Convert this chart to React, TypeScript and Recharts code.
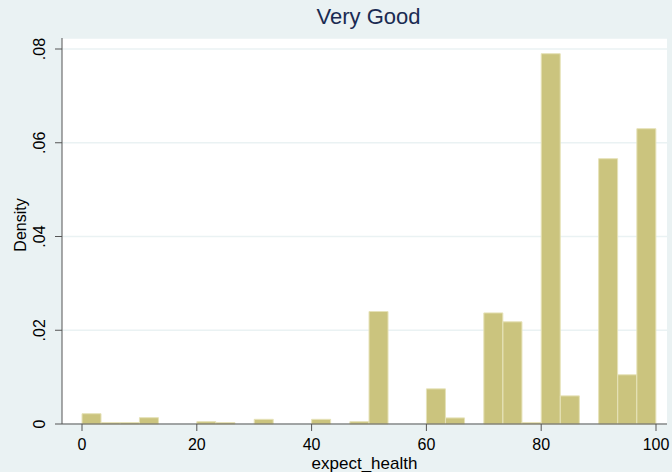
import { Bar, BarChart, CartesianGrid, Label, XAxis, YAxis } from "recharts";

// expect_health histogram, 30 bins of width 3.33 (0..100)
const binMids = [
  1.67, 5, 8.33, 11.67, 15, 18.33, 21.67, 25, 28.33, 31.67,
  35, 38.33, 41.67, 45, 48.33, 51.67, 55, 58.33, 61.67, 65,
  68.33, 71.67, 75, 78.33, 81.67, 85, 88.33, 91.67, 95, 98.33,
];
const densities = [
  0.0022, 0.0003, 0.0003, 0.00135, 0, 0, 0.0005, 0.0003, 0, 0.001,
  0, 0, 0.001, 0, 0.0005, 0.024, 0, 0, 0.0075, 0.0013,
  0, 0.0237, 0.0218, 0.0003, 0.079, 0.006, 0, 0.0566, 0.0105, 0.063,
];
const xTicks = [0, 20, 40, 60, 80, 100];
const yTicks = [0, 0.02, 0.04, 0.06, 0.08];

const data = binMids.map((mid, i) => ({ mid, density: densities[i] }));

const FONT = '"Liberation Sans", Arial, sans-serif';
const BG = "#eaf2f3";

const fmtY = (v: number) => (v === 0 ? "0" : v.toFixed(2).replace(/^0/, ""));

const YTick = (props: any) => {
  const { x, y, payload } = props;
  const tx = x - 8;
  return (
    <text
      x={tx}
      y={y}
      transform={`rotate(-90 ${tx} ${y})`}
      textAnchor="middle"
      fontSize={16}
      fontFamily={FONT}
      fill="#000"
    >
      {fmtY(payload.value)}
    </text>
  );
};

const XTick = (props: any) => {
  const { x, y, payload } = props;
  return (
    <text x={x} y={y + 17} textAnchor="middle" fontSize={16} fontFamily={FONT} fill="#000">
      {payload.value}
    </text>
  );
};

export default function App() {
  return (
    <div style={{ position: "absolute", left: 0, top: 0, width: 672, height: 472, background: BG }}>
      <div
        style={{
          position: "absolute",
          left: 66,
          width: 605,
          top: 4,
          textAlign: "center",
          fontFamily: FONT,
          fontSize: 22,
          color: "#1a2b52",
        }}
      >
        Very Good
      </div>
      <BarChart
        width={672}
        height={472}
        data={data}
        margin={{ top: 38, right: 5, bottom: 0, left: 0 }}
        barCategoryGap={0}
      >
        <CartesianGrid fill="#ffffff" vertical={false} stroke={BG} strokeWidth={1.5} />
        <XAxis
          dataKey="mid"
          type="number"
          domain={[0, 100]}
          ticks={xTicks}
          padding={{ left: 20, right: 11 }}
          height={48}
          tickSize={7}
          stroke="#555"
          tick={<XTick />}
        >
          <Label
            content={(p: any) => {
              const vb = p.viewBox;
              return (
                <text
                  x={vb.x + vb.width / 2}
                  y={vb.y + 45}
                  textAnchor="middle"
                  fontSize={17}
                  fontFamily={FONT}
                  fill="#000"
                >
                  expect_health
                </text>
              );
            }}
          />
        </XAxis>
        <YAxis
          type="number"
          domain={[0, 0.08]}
          ticks={yTicks}
          padding={{ top: 11 }}
          width={62}
          tickSize={7}
          stroke="#555"
          tick={<YTick />}
        >
          <Label
            content={(p: any) => {
              const vb = p.viewBox;
              const cy = vb.y + vb.height / 2 - 6;
              return (
                <text
                  x={26}
                  y={cy}
                  transform={`rotate(-90 26 ${cy})`}
                  textAnchor="middle"
                  fontSize={16}
                  fontFamily={FONT}
                  fill="#000"
                >
                  Density
                </text>
              );
            }}
          />
        </YAxis>
        <Bar
          dataKey="density"
          fill="#cbc47e"
          stroke="#e6e2b8"
          strokeWidth={1}
          isAnimationActive={false}
        />
      </BarChart>
    </div>
  );
}
